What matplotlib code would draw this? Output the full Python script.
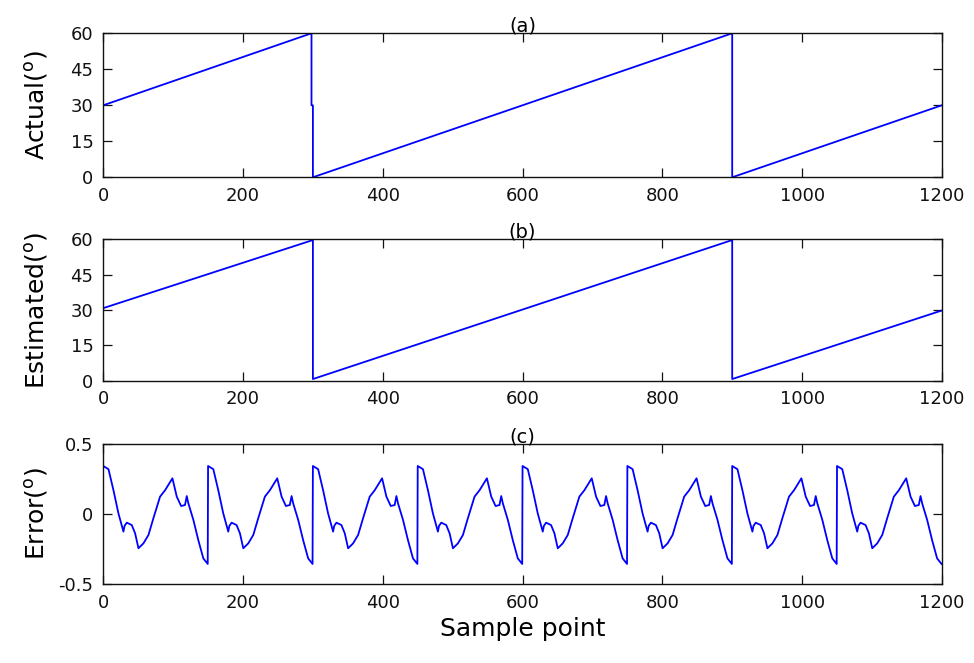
import numpy as np
import matplotlib
matplotlib.use("Agg")
import matplotlib.pyplot as plt

plt.rcParams['font.family'] = ['DejaVu Sans']
plt.rcParams['axes.unicode_minus'] = False

# Actual angle: sawtooth breakpoints (sample, degrees)
actual_x = [0, 298, 298, 300, 300, 900, 900, 1200]
actual_y = [30, 60, 30, 30, 0, 60, 0, 30]

# Estimated angle breakpoints
est_x = [0, 300, 300, 900, 900, 1200]
est_y = [30.8, 59.7, 0.7, 59.7, 0.7, 29.8]

# Error over one 150-sample cycle (offset within cycle, degrees)
err_offset = [0, 7.5, 14.6, 21.7, 28.9, 30.5, 33.7, 40.8, 45.6, 50.4, 57.5,
              64.7, 71.8, 81.3, 88.5, 99, 105.2, 111.4, 117, 119.5, 121.8,
              129, 136, 143.2, 149.5]
err_cycle = [0.343, 0.32, 0.17, 0.005, -0.126, -0.085, -0.062, -0.079, -0.138,
             -0.245, -0.21, -0.15, -0.03, 0.124, 0.17, 0.255, 0.124, 0.057,
             0.064, 0.128, 0.076, -0.043, -0.186, -0.317, -0.357]
n_cycles = 8
cycle_len = 150

err_x = np.concatenate([np.array(err_offset) + k * cycle_len for k in range(n_cycles)])
err_y = np.tile(err_cycle, n_cycles)

xticks = [0, 200, 400, 600, 800, 1000, 1200]
angle_ticks = [0, 15, 30, 45, 60]
err_ticks = [-0.5, 0, 0.5]
err_ticklabels = ['-0.5', '0', '0.5']

fig = plt.figure(figsize=(9.74, 6.63), dpi=100)
left, width = 0.106, 0.861
ax_a = fig.add_axes([left, 0.7326, width, 0.2172])
ax_b = fig.add_axes([left, 0.4258, width, 0.2132])
ax_c = fig.add_axes([left, 0.1192, width, 0.2111])

line_kw = dict(color='#0000ff', lw=1.3)
ax_a.plot(actual_x, actual_y, **line_kw)
ax_b.plot(est_x, est_y, **line_kw)
ax_c.plot(err_x, err_y, **line_kw)

deg = r'($^{\mathregular{o}}$)'
for ax, lab, ttl in [(ax_a, 'Actual' + deg, '(a)'),
                     (ax_b, 'Estimated' + deg, '(b)'),
                     (ax_c, 'Error' + deg, '(c)')]:
    ax.set_xlim(0, 1200)
    ax.set_xticks(xticks)
    ax.tick_params(direction='in', length=6.5, width=0.9, top=True, right=True,
                   labelsize=13, pad=7, colors='#111111')
    ax.set_ylabel(lab, fontsize=18)
    ax.yaxis.set_label_coords(-0.064, 0.5)
    ax.set_title(ttl, fontsize=14, pad=1)
    for sp in ax.spines.values():
        sp.set_linewidth(1.0)
        sp.set_color('#111111')

for ax in (ax_a, ax_b):
    ax.set_ylim(0, 60)
    ax.set_yticks(angle_ticks)

ax_c.set_ylim(-0.5, 0.5)
ax_c.set_yticks(err_ticks)
ax_c.set_yticklabels(err_ticklabels)
ax_c.set_xlabel('Sample point', fontsize=18, labelpad=4)

fig.savefig('out.png', dpi=100, facecolor='white')
